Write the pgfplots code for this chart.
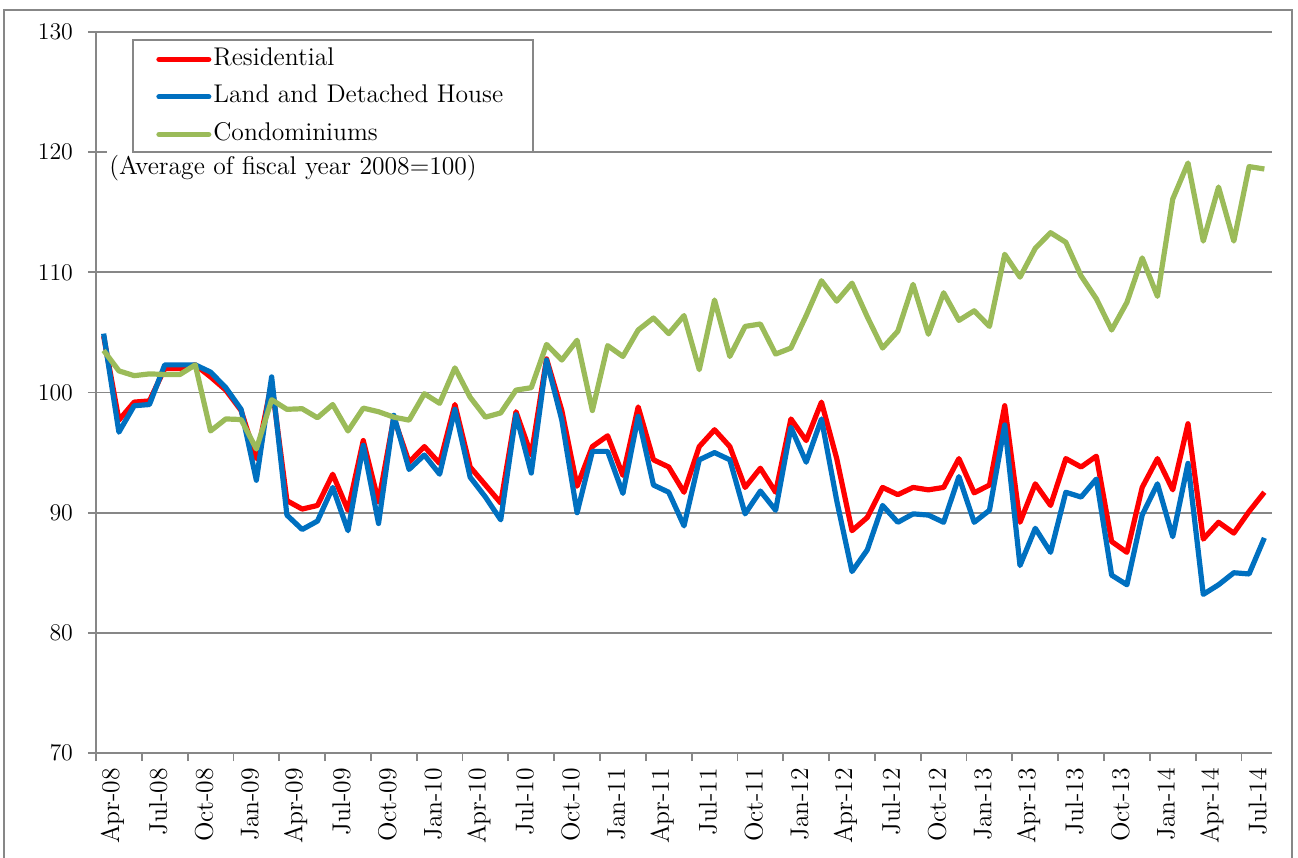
\documentclass[border=0pt]{standalone}
\usepackage{pgfplots}
\usepackage{pgfplotstable}
\pgfplotsset{compat=1.18}
\definecolor{resred}{HTML}{FF0000}
\definecolor{landblue}{HTML}{0070C0}
\definecolor{condogreen}{HTML}{9BBB59}
\definecolor{axgray}{HTML}{878787}

\pgfplotstableread{
i red blue green
0 104.7 104.9 103.5
1 97.7 96.7 101.8
2 99.2 98.9 101.4
3 99.3 99.0 101.55
4 102.0 102.3 101.5
5 102.0 102.3 101.5
6 102.3 102.3 102.3
7 101.3 101.7 96.8
8 100.2 100.4 97.8
9 98.5 98.6 97.75
10 94.5 92.7 95.3
11 100.8 101.3 99.4
12 91.0 89.8 98.6
13 90.3 88.6 98.65
14 90.6 89.3 97.9
15 93.2 92.1 99.0
16 90.2 88.5 96.8
17 96.0 95.6 98.7
18 90.9 89.1 98.4
19 97.9 98.1 97.95
20 94.2 93.6 97.7
21 95.5 94.8 99.9
22 94.1 93.2 99.1
23 99.0 98.6 102.05
24 93.8 92.95 99.6
25 92.3 91.3 97.95
26 90.8 89.4 98.3
27 98.4 98.15 100.2
28 94.8 93.3 100.4
29 102.8 102.7 104.0
30 98.5 97.7 102.7
31 92.2 90.0 104.35
32 95.5 95.1 98.5
33 96.4 95.1 103.9
34 93.1 91.6 103.0
35 98.8 98.0 105.2
36 94.4 92.3 106.2
37 93.8 91.7 104.9
38 91.7 88.9 106.4
39 95.5 94.4 101.9
40 96.9 95.0 107.7
41 95.5 94.4 103.0
42 92.1 89.9 105.5
43 93.7 91.8 105.7
44 91.7 90.2 103.2
45 97.8 97.1 103.7
46 96.0 94.2 106.4
47 99.2 97.8 109.3
48 94.5 91.0 107.6
49 88.5 85.1 109.1
50 89.6 86.9 106.3
51 92.1 90.6 103.7
52 91.5 89.2 105.1
53 92.1 89.9 109.0
54 91.9 89.8 104.85
55 92.1 89.2 108.3
56 94.5 93.0 106.0
57 91.65 89.2 106.8
58 92.3 90.2 105.5
59 98.9 97.3 111.5
60 89.2 85.6 109.6
61 92.4 88.7 112.0
62 90.6 86.7 113.3
63 94.5 91.7 112.5
64 93.8 91.3 109.7
65 94.7 92.8 107.8
66 87.6 84.8 105.2
67 86.7 84.0 107.5
68 92.1 89.8 111.2
69 94.5 92.4 108.0
70 91.9 88.0 116.1
71 97.4 94.1 119.1
72 87.8 83.2 112.6
73 89.2 84.0 117.1
74 88.3 85.0 112.6
75 90.1 84.9 118.8
76 91.7 87.9 118.6
}\datatable

\begin{document}
\begin{tikzpicture}
\useasboundingbox (0,0) rectangle (649bp,429bp);
\draw[axgray, line width=1bp] (2bp,-2bp) -- (2bp,424bp) -- (646bp,424bp) -- (646bp,-2bp);
\begin{axis}[
  at={(48bp,52.5bp)}, anchor=south west,
  scale only axis, width=588bp, height=360.5bp,
  xmin=-0.5, xmax=76.5, ymin=70, ymax=130,
  axis x line*=bottom, axis y line*=left,
  axis line style={axgray, line width=0.9bp},
  every tick/.style={axgray, line width=0.9bp},
  tick align=outside, major tick length=4bp,
  ytick={70,80,...,130},
  ymajorgrids, grid style={axgray, line width=0.9bp},
  xtick={-0.5,2.5,...,74.5},
  xticklabels={Apr-08,Jul-08,Oct-08,Jan-09,Apr-09,Jul-09,Oct-09,Jan-10,Apr-10,Jul-10,Oct-10,Jan-11,Apr-11,Jul-11,Oct-11,Jan-12,Apr-12,Jul-12,Oct-12,Jan-13,Apr-13,Jul-13,Oct-13,Jan-14,Apr-14,Jul-14},
  x tick label style={xshift=7.2bp, rotate=90, anchor=east, yshift=-1bp},
  y tick label style={xshift=-4bp},
  tick label style={font=\fontsize{12.8bp}{15bp}\selectfont, black},
  legend style={at={(rel axis cs:0.051,0.982)}, anchor=north west, draw=none, fill=none,
    inner sep=0pt, row sep=4.75bp, column sep=0pt,
    nodes={inner sep=1bp, text height=9bp, text depth=3bp},
    font=\fontsize{12.8bp}{15bp}\selectfont},
  legend cell align=left,
  legend image code/.code={\draw[#1, line cap=round] (1.3bp,0bp) -- (26.2bp,0bp);},
]
\node[fill=white, inner xsep=1bp, inner ysep=2.5bp, text width=197bp, align=left, anchor=west,
  font=\fontsize{12.8bp}{15bp}\selectfont] at (rel axis cs:0.0094,0.8114) {(Average of fiscal year 2008=100)};
\draw[axgray, line width=0.9bp, fill=white] (rel axis cs:0.0315,0.9889) rectangle (rel axis cs:0.3716,0.8336);
\addplot[resred, line width=2.6bp, line join=round] table[x=i, y=red] {\datatable};
\addlegendentry{Residential}
\addplot[landblue, line width=2.6bp, line join=round] table[x=i, y=blue] {\datatable};
\addlegendentry{Land and Detached House}
\addplot[condogreen, line width=2.6bp, line join=round] table[x=i, y=green] {\datatable};
\addlegendentry{Condominiums}
\end{axis}
\end{tikzpicture}
\end{document}
